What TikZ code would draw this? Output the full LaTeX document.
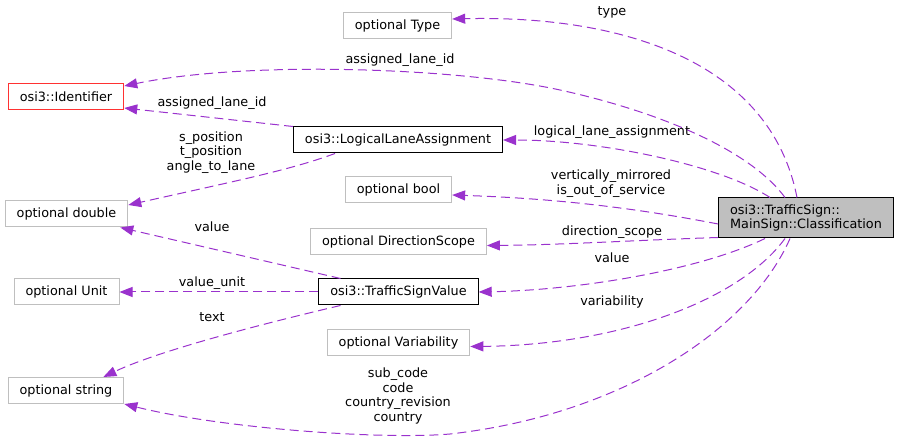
\documentclass[tikz,border=0pt]{standalone}
\usepackage{fontspec}
\setmainfont{DejaVu Sans}
\usetikzlibrary{arrows.meta}
\definecolor{edgepurple}{RGB}{154,50,205}
\definecolor{boxgray}{RGB}{191,191,191}
\definecolor{boxred}{RGB}{255,50,50}

\begin{document}
\begin{tikzpicture}[x=1pt, y=-1pt,
        classbox/.style={rectangle, draw=black, line width=1pt, inner xsep=11.5pt, inner ysep=0pt, minimum height=26pt, font=\fontsize{12.8}{14.7}\selectfont},
        typebox/.style={classbox, draw=boxgray},
        mainbox/.style={classbox, fill=boxgray, align=left, minimum height=40pt},
        member/.style={draw=edgepurple, line width=1pt, dash pattern=on 9pt off 5pt, -{Triangle[length=13pt, width=10pt]}},
        edgelabel/.style={font=\fontsize{12.8}{14.7}\selectfont, align=center, inner sep=0pt}
    ]
        \useasboundingbox (0,0) rectangle (900,443);

        % Classe principale
        \node[mainbox] (cls) at (806,218) {osi3::TrafficSign::\\MainSign::Classification};

        % Types membres (colonne du milieu)
        \node[typebox] (type) at (397.5,26) {optional Type};
        \node[classbox] (lla) at (398,140) {osi3::LogicalLaneAssignment};
        \node[typebox] (bool) at (398.5,190) {optional bool};
        \node[typebox] (dir) at (398.5,241.5) {optional DirectionScope};
        \node[classbox] (tsv) at (398.5,292) {osi3::TrafficSignValue};
        \node[typebox] (var) at (398.5,342.5) {optional Variability};

        % Types membres (colonne de gauche)
        \node[classbox, draw=boxred] (ident) at (66,97) {osi3::Identifier};
        \node[typebox] (dbl) at (66.5,214) {optional double};
        \node[typebox] (unit) at (66.5,292) {optional Unit};
        \node[typebox] (str) at (66,390.5) {optional string};

        % Liens depuis la classe principale
        \draw[member] ([xshift=-9pt]cls.north) .. controls (770,60) and (620,15) .. ([yshift=7pt]type.east);
        \draw[member] ([xshift=-21pt]cls.north) .. controls (750,150) and (660,112) .. (560,90)
            .. controls (460,68) and (250,60) .. ([yshift=11pt]ident.east);
        \draw[member] ([xshift=-36pt]cls.north) .. controls (720,165) and (600,140) .. (lla.east);
        \draw[member] ([yshift=-6pt]cls.west) .. controls (620,205) and (540,198) .. ([yshift=-5pt]bool.east);
        \draw[member] ([yshift=1pt]cls.south west) .. controls (640,240) and (560,245) .. ([yshift=-4pt]dir.east);
        \draw[member] ([xshift=-41pt]cls.south) .. controls (700,270) and (580,290) .. (tsv.east);
        \draw[member] ([xshift=-21pt]cls.south) .. controls (740,300) and (620,345) .. ([yshift=-4pt]var.east);
        \draw[member] ([xshift=-16pt]cls.south) .. controls (750,330) and (620,415) .. (450,434)
            .. controls (380,440) and (220,428) .. (str.south east);

        % Liens depuis les autres classes
        \draw[member] (lla.north west) -- ([yshift=-11pt]ident.east);
        \draw[member] ([xshift=-63pt]lla.south) .. controls (290,170) and (240,180) .. ([yshift=9pt]dbl.east);
        \draw[member] ([xshift=-58pt]tsv.north) -- ([xshift=-8pt]dbl.south east);
        \draw[member] (tsv.west) -- (unit.east);
        \draw[member] ([xshift=-58pt]tsv.south) .. controls (270,322) and (160,350) .. ([xshift=-21pt]str.north east);

        % Etiquettes des liens
        \node[edgelabel] (l-type) at (612,12) {type};
        \node[edgelabel] (l-ident1) at (400,60) {assigned\_lane\_id};
        \node[edgelabel] (l-ident2) at (212,103) {assigned\_lane\_id};
        \node[edgelabel] (l-lla) at (612,132) {logical\_lane\_assignment};
        \node[edgelabel] (l-dbl1) at (211,152.5) {s\_position\\t\_position\\angle\_to\_lane};
        \node[edgelabel] (l-bool) at (611,183.5) {vertically\_mirrored\\is\_out\_of\_service};
        \node[edgelabel] (l-dbl2) at (212,227) {value};
        \node[edgelabel] (l-dir) at (612,232) {direction\_scope};
        \node[edgelabel] (l-tsv) at (612,258) {value};
        \node[edgelabel] (l-unit) at (212,283) {value\_unit};
        \node[edgelabel] (l-var) at (612,302) {variability};
        \node[edgelabel] (l-str1) at (212,317) {text};
        \node[edgelabel] (l-str2) at (398,396) {sub\_code\\code\\country\_revision\\country};
    \end{tikzpicture}
\end{document}
